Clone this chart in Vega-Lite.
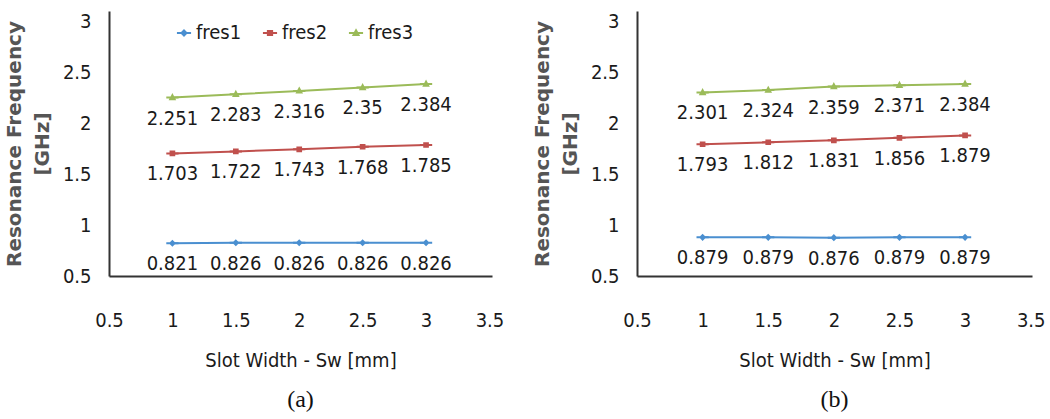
{
  "$schema": "https://vega.github.io/schema/vega-lite/v6.json",
  "background": "white",
  "padding": {"left": 4, "top": 11, "right": 0, "bottom": 0},
  "spacing": 28,
  "datasets": {
    "a": [
      {"x": 1, "series": "fres1", "y": 0.821},
      {"x": 1.5, "series": "fres1", "y": 0.826},
      {"x": 2, "series": "fres1", "y": 0.826},
      {"x": 2.5, "series": "fres1", "y": 0.826},
      {"x": 3, "series": "fres1", "y": 0.826},
      {"x": 1, "series": "fres2", "y": 1.703},
      {"x": 1.5, "series": "fres2", "y": 1.722},
      {"x": 2, "series": "fres2", "y": 1.743},
      {"x": 2.5, "series": "fres2", "y": 1.768},
      {"x": 3, "series": "fres2", "y": 1.785},
      {"x": 1, "series": "fres3", "y": 2.251},
      {"x": 1.5, "series": "fres3", "y": 2.283},
      {"x": 2, "series": "fres3", "y": 2.316},
      {"x": 2.5, "series": "fres3", "y": 2.35},
      {"x": 3, "series": "fres3", "y": 2.384}
    ],
    "b": [
      {"x": 1, "series": "fres1", "y": 0.879},
      {"x": 1.5, "series": "fres1", "y": 0.879},
      {"x": 2, "series": "fres1", "y": 0.876},
      {"x": 2.5, "series": "fres1", "y": 0.879},
      {"x": 3, "series": "fres1", "y": 0.879},
      {"x": 1, "series": "fres2", "y": 1.793},
      {"x": 1.5, "series": "fres2", "y": 1.812},
      {"x": 2, "series": "fres2", "y": 1.831},
      {"x": 2.5, "series": "fres2", "y": 1.856},
      {"x": 3, "series": "fres2", "y": 1.879},
      {"x": 1, "series": "fres3", "y": 2.301},
      {"x": 1.5, "series": "fres3", "y": 2.324},
      {"x": 2, "series": "fres3", "y": 2.359},
      {"x": 2.5, "series": "fres3", "y": 2.371},
      {"x": 3, "series": "fres3", "y": 2.384}
    ]
  },
  "config": {
    "view": {"stroke": null},
    "axis": {
      "grid": false,
      "ticks": false,
      "domainColor": "#333",
      "domainWidth": 2,
      "labelFont": "DejaVu Sans Condensed, Roboto, sans-serif",
      "labelFontSize": 20,
      "labelColor": "#1a1a1a",
      "labelFlush": false,
      "labelOverlap": false,
      "format": "~g"
    },
    "title": {"font": "Liberation Serif", "fontSize": 24, "fontWeight": "normal", "color": "#111"},
    "legend": {
      "orient": "none",
      "legendX": 65,
      "legendY": 12,
      "direction": "horizontal",
      "title": null,
      "labelFont": "DejaVu Sans Condensed, Roboto, sans-serif",
      "labelFontSize": 20,
      "labelColor": "#1a1a1a",
      "symbolSize": 200,
      "symbolStrokeWidth": 2,
      "columnPadding": 16,
      "labelOffset": 2
    }
  },
  "hconcat": [
    {
      "width": 383,
      "height": 265,
      "data": {"name": "a"},
      "title": {"text": "(a)", "orient": "bottom", "offset": 18},
      "encoding": {
        "x": {
          "field": "x", "type": "quantitative",
          "scale": {"domain": [0.5, 3.52], "nice": false, "zero": false},
          "axis": {
            "values": [0.5, 1, 1.5, 2, 2.5, 3, 3.5],
            "labelPadding": 34,
            "title": "Slot Width - Sw [mm]",
            "titleFont": "DejaVu Sans Condensed, Roboto, sans-serif",
            "titleFontSize": 20,
            "titleFontWeight": "normal",
            "titleColor": "#1a1a1a",
            "titlePadding": 20
          }
        },
        "y": {
          "field": "y", "type": "quantitative",
          "scale": {"domain": [0.5, 3.1], "nice": false, "zero": false},
          "axis": {
            "values": [0.5, 1, 1.5, 2, 2.5, 3],
            "labelPadding": 18,
            "title": ["Resonance  Frequency", "[GHz]"],
            "titleFont": "DejaVu Sans",
            "titleFontSize": 20,
            "titleFontWeight": "bold",
            "titleColor": "#555",
            "titleLineHeight": 28,
            "titlePadding": 10
          }
        }
      },
      "layer": [
        {
          "mark": {"type": "line", "strokeWidth": 2},
          "encoding": {
            "color": {"field": "series", "type": "nominal",
              "scale": {"domain": ["fres1", "fres2", "fres3"], "range": ["#4A8FD0", "#C0504D", "#9BBB59"]}}
          }
        },
        {
          "mark": {"type": "point", "filled": true, "size": 150, "strokeWidth": 2, "opacity": 1},
          "encoding": {
            "color": {"field": "series", "type": "nominal",
              "scale": {"domain": ["fres1", "fres2", "fres3"], "range": ["#4A8FD0", "#C0504D", "#9BBB59"]}},
            "stroke": {"field": "series", "type": "nominal",
              "scale": {"domain": ["fres1", "fres2", "fres3"], "range": ["#4A8FD0", "#C0504D", "#9BBB59"]}},
            "shape": {"field": "series", "type": "nominal",
              "scale": {"domain": ["fres1", "fres2", "fres3"], "range": [
                "M-1,0H1M0,-0.35L0.35,0L0,0.35L-0.35,0Z",
                "M-1,0H1M-0.3,-0.3H0.3V0.3H-0.3Z",
                "M-1,0H1M0,-0.38L0.35,0.28H-0.35Z"
              ]}}
          }
        },
        {
          "mark": {"type": "text", "dy": 21, "baseline": "middle", "align": "center", "font": "DejaVu Sans Condensed, Roboto, sans-serif", "fontSize": 20, "color": "#1a1a1a"},
          "encoding": {"text": {"field": "y", "type": "nominal"}}
        }
      ]
    },
    {
      "width": 395,
      "height": 265,
      "data": {"name": "b"},
      "title": {"text": "(b)", "orient": "bottom", "offset": 18},
      "encoding": {
        "x": {
          "field": "x", "type": "quantitative",
          "scale": {"domain": [0.5, 3.51], "nice": false, "zero": false},
          "axis": {
            "values": [0.5, 1, 1.5, 2, 2.5, 3, 3.5],
            "labelPadding": 34,
            "title": "Slot Width - Sw [mm]",
            "titleFont": "DejaVu Sans Condensed, Roboto, sans-serif",
            "titleFontSize": 20,
            "titleFontWeight": "normal",
            "titleColor": "#1a1a1a",
            "titlePadding": 20
          }
        },
        "y": {
          "field": "y", "type": "quantitative",
          "scale": {"domain": [0.5, 3.1], "nice": false, "zero": false},
          "axis": {
            "values": [0.5, 1, 1.5, 2, 2.5, 3],
            "labelPadding": 18,
            "title": ["Resonance Frequency", "[GHz]"],
            "titleFont": "DejaVu Sans",
            "titleFontSize": 20,
            "titleFontWeight": "bold",
            "titleColor": "#555",
            "titleLineHeight": 28,
            "titlePadding": 10
          }
        }
      },
      "layer": [
        {
          "mark": {"type": "line", "strokeWidth": 2},
          "encoding": {
            "color": {"field": "series", "type": "nominal",
              "scale": {"domain": ["fres1", "fres2", "fres3"], "range": ["#4A8FD0", "#C0504D", "#9BBB59"]}}
          }
        },
        {
          "mark": {"type": "point", "filled": true, "size": 150, "strokeWidth": 2, "opacity": 1},
          "encoding": {
            "color": {"field": "series", "type": "nominal",
              "scale": {"domain": ["fres1", "fres2", "fres3"], "range": ["#4A8FD0", "#C0504D", "#9BBB59"]}},
            "stroke": {"field": "series", "type": "nominal",
              "scale": {"domain": ["fres1", "fres2", "fres3"], "range": ["#4A8FD0", "#C0504D", "#9BBB59"]}},
            "shape": {"field": "series", "type": "nominal",
              "scale": {"domain": ["fres1", "fres2", "fres3"], "range": [
                "M-1,0H1M0,-0.35L0.35,0L0,0.35L-0.35,0Z",
                "M-1,0H1M-0.3,-0.3H0.3V0.3H-0.3Z",
                "M-1,0H1M0,-0.38L0.35,0.28H-0.35Z"
              ]}}
          }
        },
        {
          "mark": {"type": "text", "dy": 21, "baseline": "middle", "align": "center", "font": "DejaVu Sans Condensed, Roboto, sans-serif", "fontSize": 20, "color": "#1a1a1a"},
          "encoding": {"text": {"field": "y", "type": "nominal"}}
        }
      ]
    }
  ]
}
